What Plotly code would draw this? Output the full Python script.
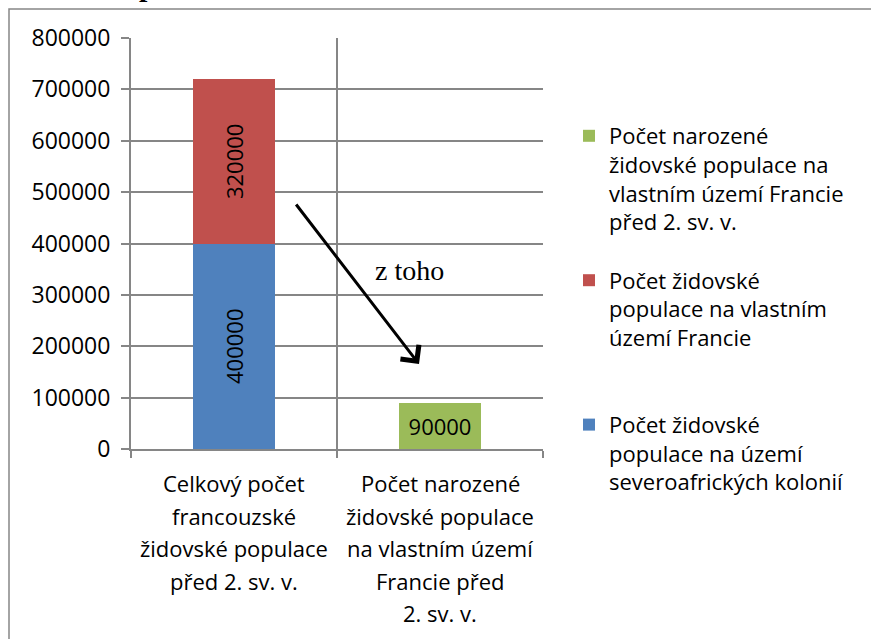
import plotly.graph_objects as go

# data
categories = [
    "Celkový počet<br>francouzské<br>židovské populace<br>před 2. sv. v.",
    "Počet narozené<br>židovské populace<br>na vlastním území<br>Francie před<br>2. sv. v.",
]
colonies = [400000, None]
mainland = [320000, None]
born = [None, 90000]

names = [
    "Počet židovské<br>populace na území<br>severoafrických kolonií",
    "Počet židovské<br>populace na vlastním<br>území Francie<br> ",
    "Počet narozené<br>židovské populace na<br>vlastním území Francie<br>před 2. sv. v.",
]
colors = ["#4F81BD", "#C0504D", "#9BBB59"]
y_ticks = list(range(0, 800001, 100000))

FONT = "Open Sans"
FS = 22
GRID = "#868686"

# plot area in pixels (for placing the extras)
L, R, T, B = 131, 543, 38, 449
W, H = 871, 639


def px(x):
    return (x - L) / (R - L)


def py(y):
    return (B - y) / (B - T)


fig = go.Figure()
for i, (vals, name, col, ang) in enumerate(zip([colonies, mainland, born], names, colors, [-90, -90, 0])):
    fig.add_trace(go.Bar(
        x=categories, y=vals, name=name,
        marker=dict(color=col, line=dict(width=0)),
        text=[f"{v}" if v else "" for v in vals],
        textposition="inside", insidetextanchor="middle",
        textangle=ang,
        textfont=dict(family=FONT, size=FS, color="black"),
        legendgroup=f"g{i}", legendrank=3 - i,
        width=0.4,
    ))

# category labels, one line at a time (Excel-like line spacing)
for cat in categories:
    for j, line in enumerate(cat.split("<br>")):
        fig.add_annotation(
            x=cat, xref="x", y=py(483 + j * 32.5), yref="paper",
            text=line, showarrow=False, xanchor="center", yanchor="middle",
            font=dict(family=FONT, size=FS, color="black"),
        )

# arrow + note
fig.add_annotation(
    x=px(419), y=py(364), xref="paper", yref="paper",
    ax=295 - 419, ay=203 - 364,
    showarrow=True, arrowhead=4, arrowsize=1.5, arrowwidth=3, arrowcolor="black",
    text="",
)
fig.add_annotation(
    x=px(409), y=py(270), xref="paper", yref="paper",
    xanchor="center", yanchor="middle",
    text="z toho", showarrow=False,
    font=dict(family="Liberation Serif", size=28, color="black"),
)
# cut-off title fragment at the very top
fig.add_annotation(
    x=px(147), y=py(-15), xref="paper", yref="paper",
    xanchor="center", yanchor="middle",
    text="<b>p</b>", showarrow=False,
    font=dict(family="Liberation Serif", size=30, color="black"),
)

# chart border (runs off the page right and bottom)
fig.add_shape(
    type="path", xref="paper", yref="paper",
    path=f"M {px(9)} {py(660)} L {px(9)} {py(9)} L {px(900)} {py(9)}",
    line=dict(color=GRID, width=1.5),
)

fig.update_layout(
    barmode="stack",
    width=W, height=H,
    margin=dict(l=L, r=W - R, t=T, b=H - B),
    paper_bgcolor="white", plot_bgcolor="white",
    font=dict(family=FONT, size=FS, color="black"),
    legend=dict(
        x=px(569), y=py(115), xanchor="left", yanchor="top",
        traceorder="grouped", tracegroupgap=27, valign="top",
        font=dict(family=FONT, size=FS, color="black"),
        itemwidth=30,
    ),
    showlegend=True,
)
fig.update_xaxes(
    showline=True, linecolor=GRID, linewidth=2,
    tickson="boundaries", ticks="outside", ticklen=7, tickcolor=GRID, tickwidth=2,
    showgrid=True, gridcolor=GRID, gridwidth=1.5,
    showticklabels=False,
)
fig.update_yaxes(
    range=[0, 800000], tickvals=y_ticks, tickformat="d",
    showline=True, linecolor=GRID, linewidth=2,
    ticks="outside", ticklen=8, tickcolor=GRID, tickwidth=2,
    showgrid=True, gridcolor=GRID, gridwidth=1.5, zeroline=False,
    tickfont=dict(family=FONT, size=23, color="black"),
    ticklabelstandoff=6,
)

fig.write_html(
    "out.html",
    config={"displayModeBar": False},
    post_script="document.body.style.margin='0';",
)
